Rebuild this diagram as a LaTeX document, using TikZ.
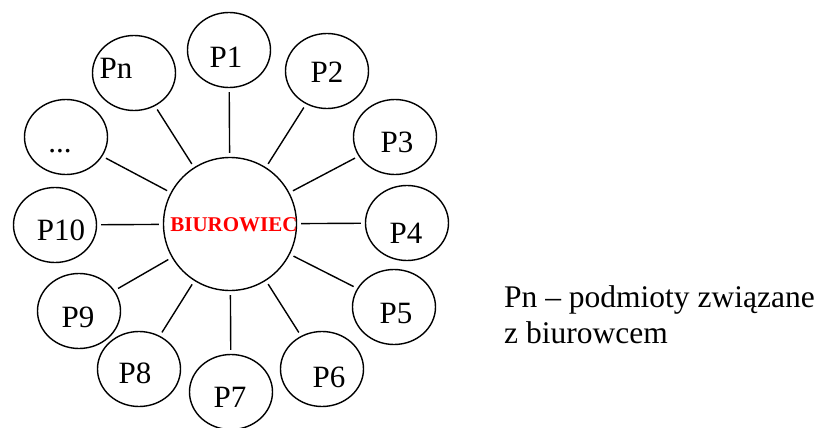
\documentclass[tikz,border=0pt]{standalone}
\usepackage{fontspec}
\setmainfont{Liberation Serif}
\usetikzlibrary{shapes.geometric,positioning}
\newcommand \mydrawent[6]
{
\node[ent] (#1) at (#2,#3) {};
\node[lbl] (#1t) at (#4,#5) {#6};
\draw[con] (hub)--(#1);
}

\begin{document}
\begin{tikzpicture}[x=1pt,y=-1pt,line join=round,
  ent/.style={draw,ellipse,line width=1.4pt,minimum width=83pt,minimum height=75pt,inner sep=0pt},
  lbl/.style={anchor=base,inner sep=0pt,font=\fontsize{31}{36}\selectfont},
  con/.style={line width=1.4pt,shorten <=4pt,shorten >=4pt}]
\useasboundingbox (0,0) rectangle (820,428);
\node[draw,circle,line width=1.4pt,minimum size=133pt,inner sep=0pt] (hub) at (230,224) {};
\node[anchor=base,inner sep=0pt,text=red,font=\fontsize{21}{24}\selectfont\bfseries] (hubt) at (234,231) {BIUROWIEC};
\mydrawent{p1}{229}{50}{226}{68}{P1}
\mydrawent{p2}{327}{71}{327}{83}{P2}
\mydrawent{p3}{395}{137}{397}{153}{P3}
\mydrawent{p4}{407}{223}{406}{243}{P4}
\mydrawent{p5}{394}{307}{396}{323}{P5}
\mydrawent{p6}{322}{369}{329}{387}{P6}
\mydrawent{p7}{231}{392}{230}{407}{P7}
\mydrawent{p8}{139}{369}{135}{383}{P8}
\mydrawent{p9}{79}{311}{78}{327}{P9}
\mydrawent{p10}{55}{225}{61}{240}{P10}
\mydrawent{pdots}{66}{137}{60}{152}{...}
\mydrawent{pn}{134}{73}{116}{79}{Pn}
% legenda
\node[anchor=north west,align=left,inner sep=0pt,font=\fontsize{31.5}{36}\selectfont] (legend) at (504,285) {Pn – podmioty związane\\z biurowcem};
\end{tikzpicture}
\end{document}
